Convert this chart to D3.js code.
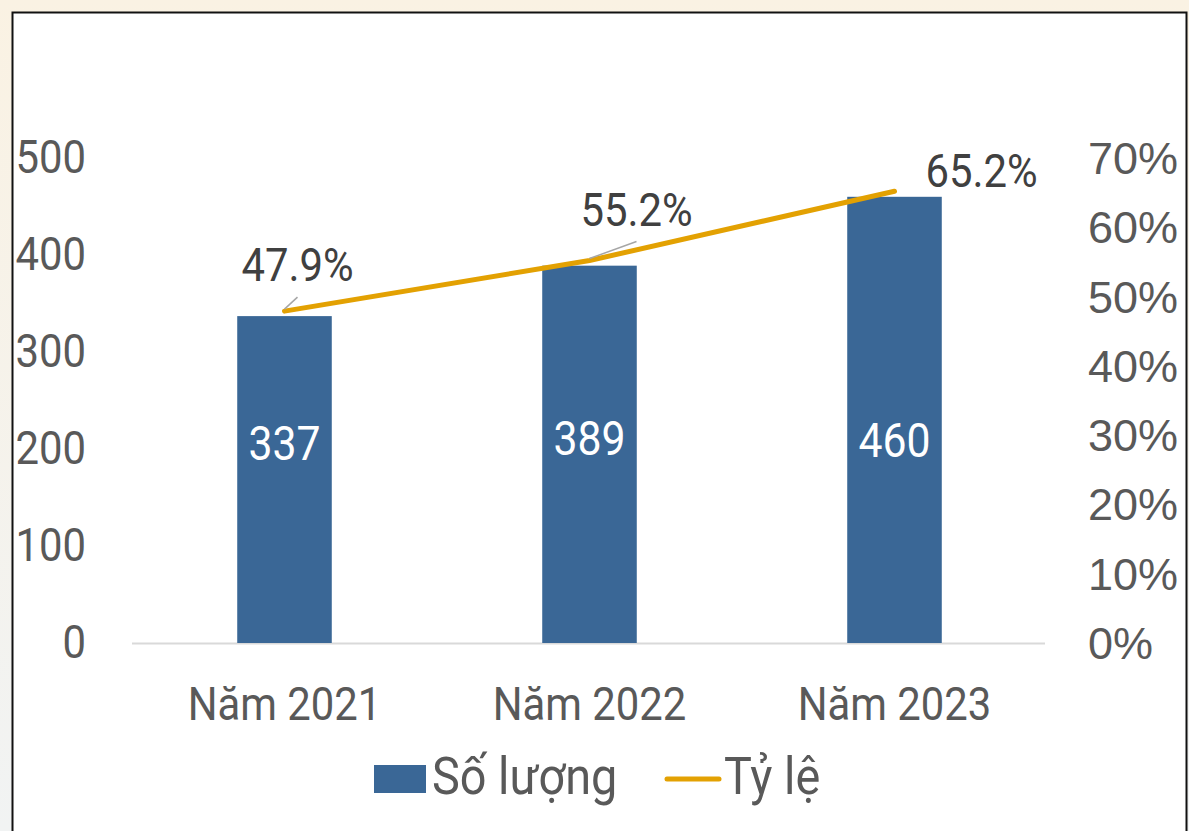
<!DOCTYPE html>
<html>
<head>
<meta charset="utf-8">
<script src="https://cdn.jsdelivr.net/npm/d3@7"></script>
<style>
  html, body { margin: 0; padding: 0; background: #faf3e5; }
  svg { display: block; }
</style>
</head>
<body>
<div id="chart"></div>
<script>
// data
const categories = ['Năm 2021', 'Năm 2022', 'Năm 2023'];
const counts = [337, 389, 460];
const rates = [0.479, 0.552, 0.652];
const leftTicks = [0, 100, 200, 300, 400, 500];
const rightTicks = [0, 0.1, 0.2, 0.3, 0.4, 0.5, 0.6, 0.7];
const seriesNames = ['Số lượng', 'Tỷ lệ'];

// label placement (px offsets from the point)
const rateLabelOffset = [[13, -30], [47, -35], [87, -4]];
const leaderLines = [true, true, false];
const countLabelY = [460, 455, 457];

const W = 1189, H = 831;
const BAR = '#3a6796', LINE = '#e3a102', TXT = '#595959', DARK = '#404040';
const SX = 0.89;
const FONT = 'Roboto, "Noto Sans", sans-serif';

const svg = d3.select('#chart').append('svg')
	.attr('width', W)
	.attr('height', H);

// cream page background, white chart box with black border
const grad = svg.append('defs').append('linearGradient')
	.attr('id', 'bg').attr('x1', 0).attr('y1', 0).attr('x2', 0).attr('y2', 1);
grad.append('stop').attr('offset', 0).attr('stop-color', '#faf2e3');
grad.append('stop').attr('offset', 1).attr('stop-color', '#f1f3f3');
svg.append('rect').attr('width', W).attr('height', H).attr('fill', 'url(#bg)');
svg.append('rect')
	.attr('x', 12.5).attr('y', 12.5)
	.attr('width', 1174).attr('height', H)
	.attr('fill', '#fff')
	.attr('stroke', '#111')
	.attr('stroke-width', 2);

const plot = { left: 132, right: 1047, top: 158, bottom: 643 };

const x = d3.scaleBand().domain(categories).range([plot.left, plot.right]).paddingInner(0.69).paddingOuter(0.345);
const y = d3.scaleLinear().domain([0, 500]).range([plot.bottom, plot.top]);
const y2 = d3.scaleLinear().domain([0, 0.7]).range([plot.bottom, plot.top]);
const cx = d => x(d) + x.bandwidth() / 2;

// condensed text helper (Roboto squeezed horizontally)
const ctext = function(g, tx, ty, str, opts) {
	return g.append('text')
		.attr('transform', `translate(${tx},${ty}) scale(${opts.sx || SX},1)`)
		.attr('text-anchor', opts.anchor || 'middle')
		.style('font-family', FONT)
		.style('font-size', (opts.size || 47) + 'px')
		.attr('fill', opts.fill || TXT)
		.text(str);
};

// left axis
const axL = svg.append('g').attr('transform', 'translate(86,0)')
	.call(d3.axisLeft(y).tickValues(leftTicks).tickSize(0).tickPadding(0).tickFormat(d3.format('d')));
axL.select('.domain').remove();
axL.selectAll('.tick text')
	.attr('x', 0).attr('dy', null).attr('y', -1)
	.attr('text-anchor', 'end')
	.attr('dominant-baseline', 'central')
	.attr('transform', `scale(${SX},1)`)
	.attr('fill', TXT)
	.style('font-family', FONT)
	.style('font-size', '47px');

// right axis
const axR = svg.append('g').attr('transform', 'translate(1088,0)')
	.call(d3.axisRight(y2).tickValues(rightTicks).tickSize(0).tickPadding(0).tickFormat(d3.format('.0%')));
axR.select('.domain').remove();
axR.selectAll('.tick text')
	.attr('x', 0).attr('dy', null)
	.attr('dominant-baseline', 'central')
	.attr('fill', TXT)
	.style('font-family', '"Liberation Sans", Arial, sans-serif')
	.style('font-size', '45px');

// baseline
svg.append('line')
	.attr('x1', plot.left).attr('x2', plot.right - 2)
	.attr('y1', y(0) + 0.5).attr('y2', y(0) + 0.5)
	.attr('stroke', '#d9d9d9').attr('stroke-width', 2);

// x labels
const xl = svg.append('g');
categories.forEach(c => ctext(xl, cx(c), 720, c, {}));

// bars
svg.append('g').selectAll('rect')
	.data(counts)
	.join('rect')
	.attr('x', (d, i) => x(categories[i]))
	.attr('y', d => y(d))
	.attr('width', x.bandwidth())
	.attr('height', d => y(0) - y(d))
	.attr('fill', BAR);

const bl = svg.append('g');
counts.forEach((d, i) => ctext(bl, cx(categories[i]), countLabelY[i], d, { fill: '#fff', size: 48 }));

// rate line
const line = d3.line()
	.x((d, i) => cx(categories[i]))
	.y(d => y2(d));
svg.append('path')
	.datum(rates)
	.attr('d', line)
	.attr('fill', 'none')
	.attr('stroke', LINE)
	.attr('stroke-width', 5)
	.attr('stroke-linecap', 'round');

// rate labels with leader lines
const rl = svg.append('g');
rates.forEach((r, i) => {
	const px = cx(categories[i]), py = y2(r);
	const [dx, dy] = rateLabelOffset[i];
	if (leaderLines[i]) {
		rl.append('line')
			.attr('x1', px).attr('y1', py - 2)
			.attr('x2', px + dx).attr('y2', py + dy + 16)
			.attr('stroke', '#a6a6a6').attr('stroke-width', 1.5);
	}
	ctext(rl, px + dx, py + dy, d3.format('.1%')(r), { fill: DARK });
});

// legend
const lg = svg.append('g');
lg.append('rect').attr('x', 374).attr('y', 765).attr('width', 52).attr('height', 28).attr('fill', BAR);
ctext(lg, 432, 794, seriesNames[0], { anchor: 'start', size: 52, sx: 0.9 });
lg.append('line')
	.attr('x1', 667).attr('x2', 719).attr('y1', 779).attr('y2', 779)
	.attr('stroke', LINE).attr('stroke-width', 5).attr('stroke-linecap', 'round');
ctext(lg, 724, 794, seriesNames[1], { anchor: 'start', size: 52, sx: 0.9 });
</script>
</body>
</html>
